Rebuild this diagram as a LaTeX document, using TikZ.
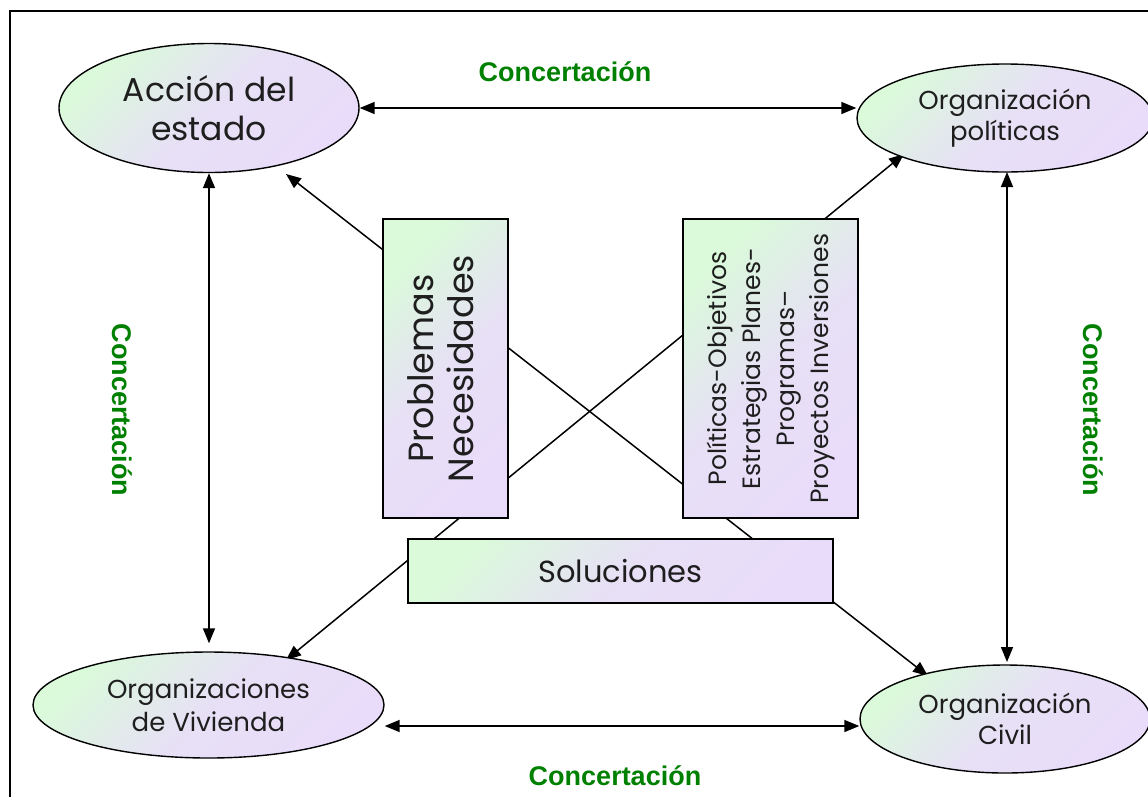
\documentclass[tikz,border=0pt]{standalone}
\usepackage{fontspec}
\setmainfont{Poppins}
\newfontfamily\labfont{Liberation Sans}
\usetikzlibrary{shapes.geometric,arrows.meta}
\definecolor{gA}{RGB}{218,250,218}
\definecolor{gB}{RGB}{233,220,250}
\definecolor{txt}{RGB}{30,30,30}
\definecolor{conc}{RGB}{0,128,0}
\tikzset{
  grad/.style={draw=black,line width=1.4pt,top color=gA,bottom color=gB,middle color=gB!85!gA,shading angle=45},
  oval/.style={grad,ellipse,inner sep=0pt,text=txt,align=center},
  boxnode/.style={grad,rectangle,inner sep=0pt,text=txt,align=center},
  conn/.style={line width=1.5pt,{Triangle[length=15pt,width=12pt]}-{Triangle[length=15pt,width=12pt]}},
  lab/.style={text=conc,font=\labfont\bfseries\fontsize{27}{30}\selectfont,inner sep=0pt}
}
\begin{document}
\begin{tikzpicture}[x=1pt,y=-1pt]
\useasboundingbox (0,0) rectangle (1148,796);
\clip (0,0) rectangle (1148,796);
\draw[line width=1.5pt] (10,11) rectangle (1200,860);
% crossing lines (behind boxes)
\coordinate (l1a) at (286,174);
\coordinate (l1b) at (928,676);
\coordinate (l2a) at (904,154);
\coordinate (l2b) at (286,660);
\draw[conn] (l1a) -- (l1b);
\draw[conn] (l2a) -- (l2b);
% ellipses
\node[oval,minimum width=300pt,minimum height=129pt,font=\fontsize{33}{39}\selectfont] (acc) at (209,108) {Acción del\\estado};
\node[oval,minimum width=296pt,minimum height=108pt,font=\fontsize{26}{31}\selectfont] (pol) at (1005,118) {Organización\\políticas};
\node[oval,minimum width=351pt,minimum height=106pt,font=\fontsize{26}{33}\selectfont] (viv) at (208.5,705) {Organizaciones\\de Vivienda};
\node[oval,minimum width=290pt,minimum height=108pt,font=\fontsize{26}{31}\selectfont] (civ) at (1005,719) {Organización\\Civil};
% boxes
\node[boxnode,minimum width=125pt,minimum height=299pt] (prob) at (445.5,368.5)
  {\rotatebox{90}{\fontsize{35}{40}\selectfont\begin{tabular}{@{}c@{}}Problemas\\Necesidades\end{tabular}}};
\node[boxnode,minimum width=175pt,minimum height=299pt] (polit) at (770.5,368.5)
  {\rotatebox{90}{\fontsize{25}{34}\selectfont\begin{tabular}{@{}c@{}}Políticas-Objetivos\\Estrategias Planes-\\Programas–\\Proyectos Inversiones\end{tabular}}};
\node[boxnode,minimum width=425pt,minimum height=64pt,font=\fontsize{30.5}{34}\selectfont] (sol) at (620.5,571) {Soluciones};
% concertacion arrows
\draw[conn] (acc.east) -- (acc.east -| pol.west);
\draw[conn] (viv.east |- 0,726) -- (civ.west |- 0,726);
\draw[conn] (acc.south) -- ([shift={(0,-8)}]acc.south |- viv.north);
\draw[conn] (1007,172) -- (1007,662);
% labels
\node[lab] (c1) at (565,72) {Concertación};
\node[lab] (c2) at (615,776) {Concertación};
\node[lab,rotate=-90] (c3) at (122,410) {Concertación};
\node[lab,rotate=-90] (c4) at (1093,410) {Concertación};
\end{tikzpicture}
\end{document}
